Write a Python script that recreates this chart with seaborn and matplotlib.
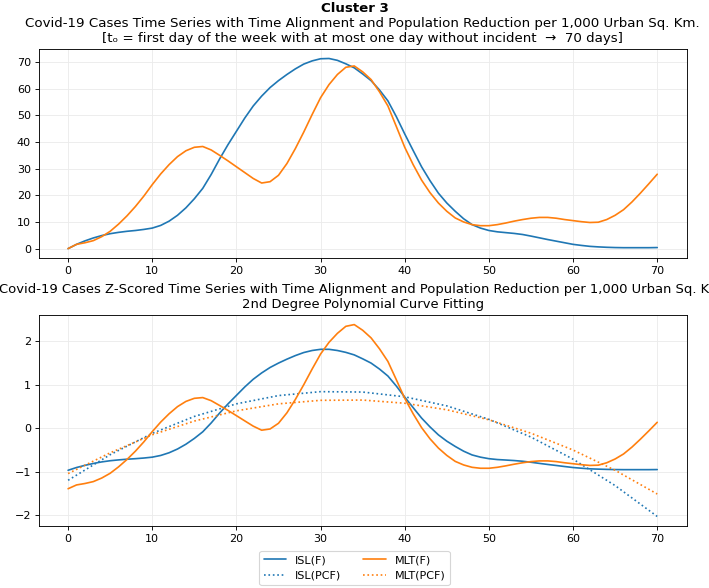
import matplotlib
matplotlib.use("Agg")
import matplotlib.pyplot as plt
import seaborn as sns

# day index after time alignment (t0 -> 70 days)
days = list(range(71))

# cases per 1,000 urban sq. km
isl_cases = [
    0, 1.6, 2.9, 4.0, 4.9, 5.6, 6.1, 6.5, 6.8, 7.2,
    7.7, 8.7, 10.3, 12.5, 15.3, 18.7, 22.6, 27.8, 33.6, 39.0,
    44.0, 49.0, 53.5, 57.2, 60.4, 63.0, 65.3, 67.4, 69.2, 70.4,
    71.2, 71.3, 70.6, 69.3, 67.8, 65.5, 63.0, 59.5, 55.4, 49.5,
    43.0, 36.8, 30.7, 25.5, 20.8, 17.1, 14.0, 11.2, 9.0, 7.7,
    6.8, 6.3, 6.0, 5.7, 5.3, 4.7, 4.05, 3.4, 2.8, 2.2,
    1.6, 1.2, 0.85, 0.65, 0.5, 0.4, 0.35, 0.35, 0.35, 0.35, 0.4,
]
mlt_cases = [
    0, 1.6, 2.2, 3.0, 4.5, 6.5, 9.2, 12.3, 15.8, 19.7,
    24.0, 28.0, 31.5, 34.5, 36.7, 38.0, 38.3, 37.0, 35.0, 32.9,
    30.7, 28.5, 26.3, 24.6, 25.1, 27.5, 31.9, 37.5, 43.7, 50.3,
    56.6, 61.5, 65.3, 68.0, 68.5, 66.3, 63.4, 58.8, 53.5, 45.8,
    38.0, 31.5, 25.7, 21.0, 17.1, 14.0, 11.5, 10.0, 9.0, 8.6,
    8.6, 9.0, 9.6, 10.3, 10.9, 11.4, 11.7, 11.7, 11.4, 10.9,
    10.5, 10.1, 9.8, 9.9, 10.9, 12.5, 14.6, 17.5, 20.8, 24.3, 27.9,
]

# z-scored series (bottom panel)
isl_z = [
    -0.965, -0.902, -0.852, -0.809, -0.773, -0.746, -0.727, -0.711, -0.699, -0.684,
    -0.664, -0.625, -0.563, -0.477, -0.367, -0.234, -0.082, 0.121, 0.348, 0.559,
    0.754, 0.949, 1.125, 1.270, 1.395, 1.496, 1.586, 1.668, 1.738, 1.785,
    1.812, 1.812, 1.785, 1.742, 1.684, 1.594, 1.496, 1.359, 1.199, 0.969,
    0.715, 0.473, 0.234, 0.031, -0.152, -0.297, -0.418, -0.527, -0.613, -0.664,
    -0.699, -0.719, -0.730, -0.742, -0.758, -0.781, -0.807, -0.832, -0.855, -0.879,
    -0.902, -0.918, -0.932, -0.939, -0.945, -0.949, -0.951, -0.951, -0.951, -0.951, -0.949,
]
mlt_z = [
    -1.389, -1.302, -1.269, -1.225, -1.143, -1.034, -0.886, -0.717, -0.526, -0.313,
    -0.078, 0.141, 0.332, 0.496, 0.616, 0.687, 0.704, 0.633, 0.523, 0.409,
    0.289, 0.168, 0.048, -0.045, -0.017, 0.114, 0.354, 0.660, 0.999, 1.360,
    1.704, 1.972, 2.179, 2.340, 2.380, 2.250, 2.075, 1.824, 1.534, 1.114,
    0.687, 0.332, 0.015, -0.242, -0.455, -0.624, -0.761, -0.843, -0.897, -0.919,
    -0.919, -0.897, -0.864, -0.826, -0.793, -0.766, -0.750, -0.750, -0.766, -0.793,
    -0.815, -0.837, -0.854, -0.848, -0.793, -0.706, -0.591, -0.433, -0.252, -0.061, 0.136,
]

# 2nd degree polynomial curves, read every 5 days
pcf_days = [0, 5, 10, 15, 20, 25, 30, 35, 40, 45, 50, 55, 60, 65, 70]
isl_pcf = [-1.195, -0.607, -0.118, 0.271, 0.560, 0.750, 0.840, 0.831,
           0.722, 0.513, 0.205, -0.203, -0.710, -1.317, -2.025]
mlt_pcf = [-1.041, -0.564, -0.150, 0.165, 0.400, 0.560, 0.641, 0.647,
           0.574, 0.424, 0.194, -0.114, -0.500, -0.965, -1.510]

ISL_COLOR = "#1f77b4"
MLT_COLOR = "#ff7f0e"
DPI = 80

sns.set_style("ticks", {
    "axes.grid": True,
    "grid.color": "#ebebeb",
    "axes.edgecolor": "black",
    "xtick.color": "black",
    "ytick.color": "black",
    "text.color": "black",
})

fig = plt.figure(figsize=(709 / DPI, 588 / DPI), dpi=DPI)
ax1 = fig.add_axes([0.0545, 0.561, 0.914, 0.3557])
ax2 = fig.add_axes([0.0545, 0.1054, 0.914, 0.3589])

fig.suptitle("Cluster 3", fontweight="bold", fontsize=12, y=0.997)

sns.lineplot(x=days, y=isl_cases, ax=ax1, color=ISL_COLOR, legend=False)
sns.lineplot(x=days, y=mlt_cases, ax=ax1, color=MLT_COLOR, legend=False)
ax1.set_title(
    "Covid-19 Cases Time Series with Time Alignment and Population Reduction per 1,000 Urban Sq. Km.\n"
    "[t\u2092 = first day of the week with at most one day without incident  \u2192  70 days]",
    fontsize=12,
)

sns.lineplot(x=days, y=isl_z, ax=ax2, color=ISL_COLOR, label="ISL(F)")
sns.lineplot(x=pcf_days, y=isl_pcf, ax=ax2, color=ISL_COLOR, linestyle=":", label="ISL(PCF)")
sns.lineplot(x=days, y=mlt_z, ax=ax2, color=MLT_COLOR, label="MLT(F)")
sns.lineplot(x=pcf_days, y=mlt_pcf, ax=ax2, color=MLT_COLOR, linestyle=":", label="MLT(PCF)")
ax2.set_title(
    "Covid-19 Cases Z-Scored Time Series with Time Alignment and Population Reduction per 1,000 Urban Sq. Km.\n"
    "2nd Degree Polynomial Curve Fitting",
    fontsize=11.8,
)

handles, labels = ax2.get_legend_handles_labels()
if ax2.get_legend() is not None:
    ax2.get_legend().remove()

for ax in (ax1, ax2):
    ax.set_xticks([0, 10, 20, 30, 40, 50, 60, 70])
    ax.set_xlabel("")
    ax.set_ylabel("")
    for side in ("top", "right"):
        ax.spines[side].set_visible(True)

fig.legend(handles, labels, loc="lower center", ncol=2,
           bbox_to_anchor=(0.5, -0.005), fontsize=10)

fig.savefig("out.png", dpi=DPI)
